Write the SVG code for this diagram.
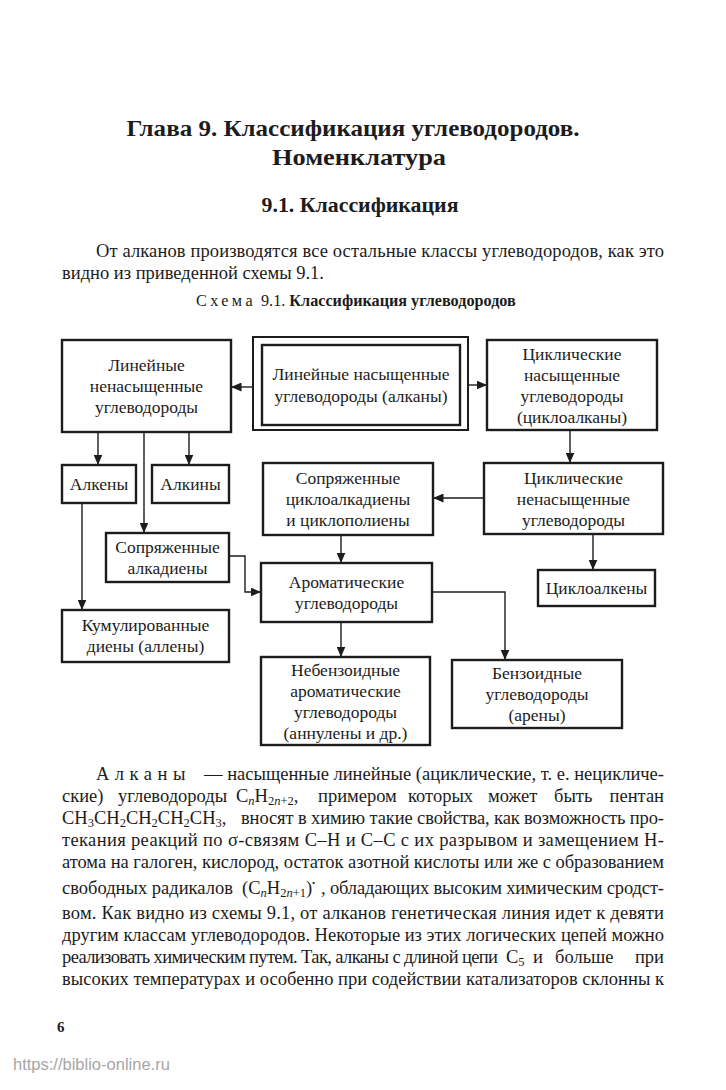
<svg xmlns="http://www.w3.org/2000/svg" width="726" height="1090" viewBox="0 0 726 1090">
<style>
.t{font-family:"Liberation Serif","Times New Roman",serif;fill:#1c1c1c}
.h{font-weight:bold}
.b{font-size:17.5px;text-anchor:middle}
.p{font-size:18.5px}
.box{fill:#fff;stroke:#1c1c1c;stroke-width:2.4}
.ln{fill:none;stroke:#1c1c1c;stroke-width:1.4;marker-end:url(#ah)}
.sub{font-size:12.5px}
</style>
<defs>
<marker id="ah" markerUnits="userSpaceOnUse" markerWidth="11" markerHeight="9" refX="10.5" refY="4.5" orient="auto">
<path d="M0,0 L10.5,4.5 L0,9 z" fill="#1c1c1c"/>
</marker>
</defs>
<rect width="726" height="1090" fill="#fff"/>

<g id="header">
<text class="t h" x="353" y="136" font-size="24" text-anchor="middle" textLength="453" lengthAdjust="spacingAndGlyphs">Глава 9. Классификация углеводородов.</text>
<text class="t h" x="359" y="165" font-size="24" text-anchor="middle" textLength="174" lengthAdjust="spacingAndGlyphs">Номенклатура</text>
<text class="t h" x="360" y="212" font-size="20" text-anchor="middle" textLength="197" lengthAdjust="spacingAndGlyphs">9.1. Классификация</text>
<text class="t p" x="96" y="257" textLength="568" lengthAdjust="spacing">От алканов производятся все остальные классы углеводородов, как это</text>
<text class="t p" x="62" y="279">видно из приведенной схемы 9.1.</text>
<text class="t" x="196" y="306" font-size="16.2"><tspan letter-spacing="3.4">Схема</tspan><tspan dx="5">9.1. </tspan><tspan class="h">Классификация углеводородов</tspan></text>
</g>

<g id="connectors">
<line class="ln" x1="253" y1="387" x2="231" y2="387"/>
<line class="ln" x1="468" y1="385" x2="487" y2="385"/>
<line class="ln" x1="98" y1="432" x2="98" y2="465"/>
<line class="ln" x1="189" y1="432" x2="189" y2="465"/>
<line class="ln" x1="144" y1="432" x2="144" y2="533"/>
<line class="ln" x1="82" y1="503" x2="82" y2="610"/>
<line class="ln" x1="570" y1="430" x2="570" y2="463"/>
<line class="ln" x1="484" y1="498" x2="433" y2="498"/>
<line class="ln" x1="593" y1="534" x2="593" y2="570"/>
<line class="ln" x1="341" y1="535" x2="341" y2="563"/>
<polyline class="ln" points="229,556 245,556 245,592 261,592"/>
<line class="ln" x1="341" y1="622" x2="341" y2="657"/>
<polyline class="ln" points="432,592 505,592 505,660"/>
</g>

<g id="n-alkany">
<rect x="253" y="337" width="215" height="93" fill="#fff" stroke="#1c1c1c" stroke-width="2"/>
<rect x="262" y="345" width="198" height="80" class="box" stroke-width="2.6"/>
<text class="t b" x="361" y="380">Линейные насыщенные</text>
<text class="t b" x="361" y="402">углеводороды (алканы)</text>
</g>

<g id="n-lin-nenas">
<rect x="62" y="340" width="169" height="92" class="box"/>
<text class="t b" x="146.5" y="371">Линейные</text>
<text class="t b" x="146.5" y="392">ненасыщенные</text>
<text class="t b" x="146.5" y="413">углеводороды</text>
</g>

<g id="n-cikloalkany">
<rect x="487" y="340" width="170" height="90" class="box"/>
<text class="t b" x="572" y="359.5">Циклические</text>
<text class="t b" x="572" y="380.5">насыщенные</text>
<text class="t b" x="572" y="401.5">углеводороды</text>
<text class="t b" x="572" y="422.5">(циклоалканы)</text>
</g>

<g id="n-alkeny">
<rect x="62" y="465" width="74" height="38" class="box"/>
<text class="t b" x="99" y="490">Алкены</text>
</g>

<g id="n-alkiny">
<rect x="152" y="465" width="77" height="38" class="box"/>
<text class="t b" x="190.5" y="490">Алкины</text>
</g>

<g id="n-sopr-cikloalkadieny">
<rect x="263" y="463" width="170" height="72" class="box"/>
<text class="t b" x="348" y="484">Сопряженные</text>
<text class="t b" x="348" y="505">циклоалкадиены</text>
<text class="t b" x="348" y="526">и циклополиены</text>
</g>

<g id="n-cikl-nenas">
<rect x="484" y="463" width="179" height="71" class="box"/>
<text class="t b" x="573.5" y="483.5">Циклические</text>
<text class="t b" x="573.5" y="504.5">ненасыщенные</text>
<text class="t b" x="573.5" y="525.5">углеводороды</text>
</g>

<g id="n-sopr-alkadieny">
<rect x="106" y="533" width="123" height="49" class="box"/>
<text class="t b" x="167.5" y="553">Сопряженные</text>
<text class="t b" x="167.5" y="574">алкадиены</text>
</g>

<g id="n-aromat">
<rect x="261" y="563" width="171" height="59" class="box"/>
<text class="t b" x="346.5" y="588">Ароматические</text>
<text class="t b" x="346.5" y="609">углеводороды</text>
</g>

<g id="n-cikloalkeny">
<rect x="538" y="570" width="117" height="36" class="box"/>
<text class="t b" x="596.5" y="594">Циклоалкены</text>
</g>

<g id="n-kumul">
<rect x="62" y="610" width="167" height="52" class="box"/>
<text class="t b" x="145.5" y="631">Кумулированные</text>
<text class="t b" x="145.5" y="652">диены (аллены)</text>
</g>

<g id="n-nebenz">
<rect x="261" y="657" width="169" height="88" class="box"/>
<text class="t b" x="345.5" y="675.5">Небензоидные</text>
<text class="t b" x="345.5" y="696.5">ароматические</text>
<text class="t b" x="345.5" y="717.5">углеводороды</text>
<text class="t b" x="345.5" y="738.5">(аннулены и др.)</text>
</g>

<g id="n-benz">
<rect x="452" y="660" width="170" height="68" class="box"/>
<text class="t b" x="537" y="679">Бензоидные</text>
<text class="t b" x="537" y="700">углеводороды</text>
<text class="t b" x="537" y="721">(арены)</text>
</g>

<g id="body">
<text class="t p" x="96" y="780" letter-spacing="5.5">Алканы</text>
<text class="t p" x="204" y="780" textLength="460" lengthAdjust="spacing">— насыщенные линейные (ациклические, т. е. нецикличе-</text>

<text class="t p" x="62" y="802">ские)</text>
<text class="t p" x="118" y="802">углеводороды</text>
<text class="t p" x="236" y="802">C<tspan class="sub" font-style="italic" dy="3">n</tspan><tspan dy="-3">H</tspan><tspan class="sub" dy="3">2<tspan font-style="italic">n</tspan>+2</tspan><tspan dy="-3">,</tspan></text>
<text class="t p" x="318" y="802">примером</text>
<text class="t p" x="408" y="802">которых</text>
<text class="t p" x="488" y="802">может</text>
<text class="t p" x="554" y="802">быть</text>
<text class="t p" x="664" y="802" text-anchor="end">пентан</text>

<text class="t p" x="62" y="824">CH<tspan class="sub" dy="3">3</tspan><tspan dy="-3">CH</tspan><tspan class="sub" dy="3">2</tspan><tspan dy="-3">CH</tspan><tspan class="sub" dy="3">2</tspan><tspan dy="-3">CH</tspan><tspan class="sub" dy="3">2</tspan><tspan dy="-3">CH</tspan><tspan class="sub" dy="3">3</tspan><tspan dy="-3">,</tspan></text>
<text class="t p" x="241" y="824" textLength="423" lengthAdjust="spacing">вносят в химию такие свойства, как возможность про-</text>

<text class="t p" x="62" y="846" textLength="602" lengthAdjust="spacing">текания реакций по σ-связям C–H и C–C с их разрывом и замещением H-</text>
<text class="t p" x="62" y="868" textLength="602" lengthAdjust="spacing">атома на галоген, кислород, остаток азотной кислоты или же с образованием</text>

<text class="t p" x="62" y="894">свободных радикалов</text>
<text class="t p" x="242" y="894">(C<tspan class="sub" font-style="italic" dy="3">n</tspan><tspan dy="-3">H</tspan><tspan class="sub" dy="3">2<tspan font-style="italic">n</tspan>+1</tspan><tspan dy="-3">)</tspan><tspan font-size="9" dy="-8">•</tspan></text>
<text class="t p" x="321" y="894" textLength="343" lengthAdjust="spacing">, обладающих высоким химическим сродст-</text>

<text class="t p" x="62" y="919" textLength="602" lengthAdjust="spacing">вом. Как видно из схемы 9.1, от алканов генетическая линия идет к девяти</text>
<text class="t p" x="62" y="941" textLength="602" lengthAdjust="spacing">другим классам углеводородов. Некоторые из этих логических цепей можно</text>

<text class="t p" x="62" y="963" textLength="436" lengthAdjust="spacing">реализовать химическим путем. Так, алканы с длиной цепи</text>
<text class="t p" x="506" y="963">C<tspan class="sub" dy="3">5</tspan></text>
<text class="t p" x="533" y="963">и</text>
<text class="t p" x="555" y="963">больше</text>
<text class="t p" x="664" y="963" text-anchor="end">при</text>

<text class="t p" x="62" y="985" textLength="602" lengthAdjust="spacing">высоких температурах и особенно при содействии катализаторов склонны к</text>
</g>

<g id="footer">
<text class="t h" x="57" y="1032" font-size="15">6</text>
<text x="13" y="1070" font-family="Liberation Sans, Arial, sans-serif" font-size="16.5" fill="#a6a6a6">https://biblio-online.ru</text>
</g>
</svg>
